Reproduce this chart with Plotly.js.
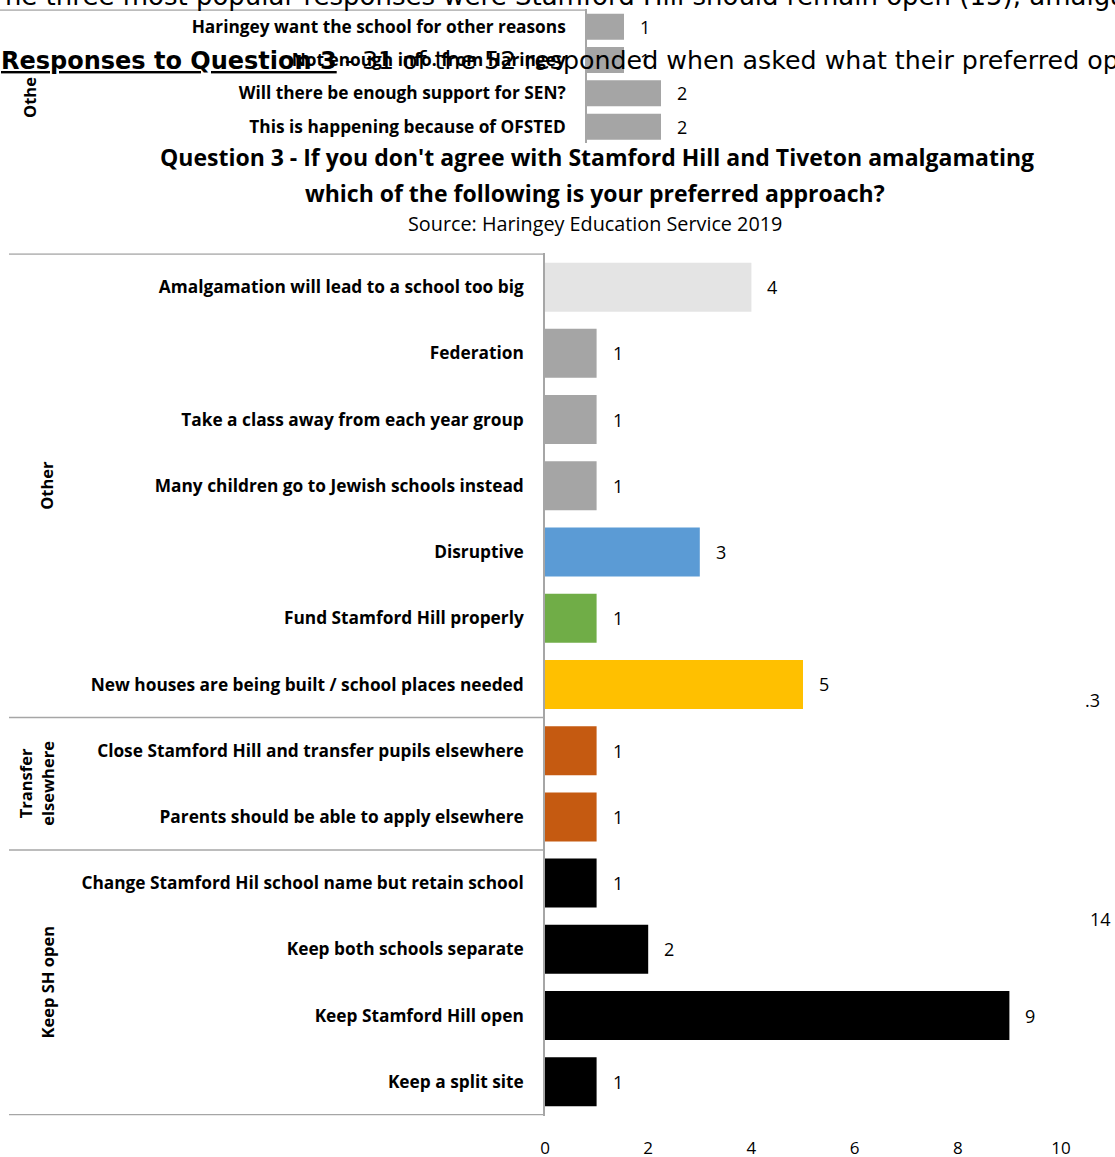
<!DOCTYPE html>
<html>
<head>
<meta charset="utf-8">
<script src="https://cdn.plot.ly/plotly-3.0.1.min.js"></script>
<style>
  html, body { margin: 0; padding: 0; background: #ffffff; }
  #chart { width: 1115px; height: 1157px; }
</style>
</head>
<body>
<div id="chart"></div>
<script>
// ---- Main chart data (Question 3) ----
const categories = [
  "Amalgamation will lead to a school too big",
  "Federation",
  "Take a class away from each year group",
  "Many children go to Jewish schools instead",
  "Disruptive",
  "Fund Stamford Hill properly",
  "New houses are being built / school places needed",
  "Close Stamford Hill and transfer pupils elsewhere",
  "Parents should be able to apply elsewhere",
  "Change Stamford Hil school name but retain school",
  "Keep both schools separate",
  "Keep Stamford Hill open",
  "Keep a split site"
];
const values = [4, 1, 1, 1, 3, 1, 5, 1, 1, 1, 2, 9, 1];
const groupNames = ["Other", "Transfer<br>elsewhere", "Keep SH open"];
const groupSizes = [7, 2, 4];
const xTickValues = [0, 2, 4, 6, 8, 10];

// ---- Partially visible previous chart (top of page) ----
const prevCategories = [
  "Haringey want the school for other reasons",
  "Not enough info. from Haringey",
  "Will there be enough support for SEN?",
  "This is happening because of OFSTED"
];
const prevValues = [1, 1, 2, 2];

// ---- Text from the surrounding document ----
const titleLine1 = "Question 3 - If you don't agree with Stamford Hill and Tiveton amalgamating";
const titleLine2 = "which of the following is your preferred approach?";
const sourceText = "Source: Haringey Education Service 2019";
const docLine1 = "The three most popular responses were Stamford Hill should remain open (15), amalgamation";
const docLine2Bold = "Responses to Question 3";
const docLine2Rest = " - 31 of the 52 responded when asked what their preferred option was";
const strayTexts = [".3", "14"];

// ---- Styles ----
const barColors = ["#e4e4e4", "#a5a5a5", "#a5a5a5", "#a5a5a5", "#5b9bd5", "#70ad47", "#ffc000",
                   "#c55a11", "#c55a11", "#000000", "#000000", "#000000", "#000000"];
const W = 1115, H = 1157;
const px = x => x / W;          // horizontal pixel -> paper
const py = y => 1 - y / H;      // vertical pixel -> paper
const FONT = "'Open Sans', Lato, sans-serif";
const DOCFONT = "'DejaVu Sans', 'Liberation Sans', Arial, sans-serif";
const lineCol = "#a6a6a6";

const traces = [
  {
    type: "bar", orientation: "h",
    x: values, y: categories,
    marker: { color: barColors },
    width: 0.74,
    hoverinfo: "x+y",
    xaxis: "x", yaxis: "y"
  },
  {
    type: "bar", orientation: "h",
    x: prevValues, y: prevCategories,
    marker: { color: "#a5a5a5" },
    width: 0.78,
    hoverinfo: "x+y",
    xaxis: "x2", yaxis: "y2"
  }
];

const annotations = [];
// value labels for main chart
values.forEach((v, i) => annotations.push({
  x: v, y: categories[i], xref: "x", yref: "y",
  text: String(v), showarrow: false, xanchor: "left", xshift: 14,
  font: { family: FONT, size: 18, color: "#000" }
}));
// value labels for previous chart
prevValues.forEach((v, i) => annotations.push({
  x: v, y: prevCategories[i], xref: "x2", yref: "y2",
  text: String(v), showarrow: false, xanchor: "left", xshift: 14,
  font: { family: FONT, size: 18, color: "#000" }
}));
// group labels
let start = 0;
groupNames.forEach((g, k) => {
  const mid = start + (groupSizes[k] - 1) / 2;
  annotations.push({
    x: px(g.indexOf("<br>") >= 0 ? 36 : 47), xref: "paper",
    y: mid, yref: "y",
    text: "<b>" + g + "</b>", textangle: -90, showarrow: false,
    xanchor: "center", yanchor: "middle",
    font: { family: FONT, size: 16.5, color: "#000" }
  });
  start += groupSizes[k];
});
// previous chart group label (clipped)
annotations.push({
  x: px(29), xref: "paper", y: py(98), yref: "paper",
  text: "<b>Othe</b>", textangle: -90, showarrow: false,
  xanchor: "center", yanchor: "middle",
  font: { family: FONT, size: 16.5, color: "#000" }
});
// title line 2 and source
annotations.push({
  x: px(595), xref: "paper", y: py(193), yref: "paper",
  text: "<b>" + titleLine2 + "</b>", showarrow: false,
  xanchor: "center", yanchor: "middle",
  font: { family: FONT, size: 23, color: "#000" }
});
annotations.push({
  x: px(595), xref: "paper", y: py(224), yref: "paper",
  text: sourceText, showarrow: false,
  xanchor: "center", yanchor: "middle",
  font: { family: FONT, size: 19.8, color: "#000" }
});
// document text
annotations.push({
  x: px(-14), xref: "paper", y: py(-4), yref: "paper",
  text: docLine1, showarrow: false,
  xanchor: "left", yanchor: "middle",
  font: { family: DOCFONT, size: 26, color: "#000" }
});
annotations.push({
  x: px(-1), xref: "paper", y: py(61), yref: "paper",
  text: "<span style=\"font-size:24px\"><b><u>" + docLine2Bold + "</u></b></span>" + docLine2Rest,
  showarrow: false,
  xanchor: "left", yanchor: "middle",
  font: { family: DOCFONT, size: 25.3, color: "#000" }
});
annotations.push({
  x: px(1102), xref: "paper", y: py(700), yref: "paper",
  text: strayTexts[0], showarrow: false, xanchor: "right", yanchor: "middle",
  font: { family: FONT, size: 18, color: "#000" }
});
annotations.push({
  x: px(1113), xref: "paper", y: py(919), yref: "paper",
  text: strayTexts[1], showarrow: false, xanchor: "right", yanchor: "middle",
  font: { family: FONT, size: 18, color: "#000" }
});

// separator lines in the category area
const shapes = [];
const bounds = [-0.5];
let acc = -0.5;
groupSizes.forEach(s => { acc += s; bounds.push(acc); });
bounds.forEach(b => shapes.push({
  type: "line", xref: "paper", yref: "y",
  x0: px(9), x1: px(545), y0: b, y1: b,
  line: { color: lineCol, width: 1.5 }
}));
// previous chart top separator
shapes.push({
  type: "line", xref: "paper", yref: "y2",
  x0: 0, x1: px(587), y0: -0.5, y1: -0.5,
  line: { color: lineCol, width: 1.5 }
});

const layout = {
  width: W, height: H,
  margin: { l: 0, r: 0, t: 0, b: 0 },
  paper_bgcolor: "#ffffff", plot_bgcolor: "rgba(0,0,0,0)",
  showlegend: false,
  title: {
    text: "<b>" + titleLine1 + "</b>",
    x: px(597), xanchor: "center", xref: "paper",
    y: py(158), yanchor: "middle", yref: "paper",
    font: { family: FONT, size: 23, color: "#000" }
  },
  xaxis: {
    domain: [px(545), px(1061)],
    range: [0, 10], tickvals: xTickValues,
    showgrid: false, zeroline: false, showline: false, ticks: "",
    ticklabelstandoff: 20,
    tickfont: { family: FONT, size: 17, color: "#000" },
    fixedrange: true
  },
  yaxis: {
    domain: [py(1115.6), py(253.3)],
    type: "category", autorange: "reversed",
    showgrid: false, zeroline: false,
    showline: true, linecolor: lineCol, linewidth: 1.5,
    ticks: "", ticklabelstandoff: 16,
    tickfont: { family: FONT, size: 17.3, color: "#000", weight: "bold" },
    fixedrange: true
  },
  xaxis2: {
    domain: [px(587), px(957)], anchor: "y2",
    range: [0, 10], visible: false, fixedrange: true
  },
  yaxis2: {
    domain: [py(143.3), py(9.3)], anchor: "x2",
    type: "category", autorange: "reversed",
    showgrid: false, zeroline: false,
    showline: true, linecolor: lineCol, linewidth: 1.5,
    ticks: "", ticklabelstandoff: 16,
    tickfont: { family: FONT, size: 17.3, color: "#000", weight: "bold" },
    fixedrange: true
  },
  annotations: annotations,
  shapes: shapes,
  bargap: 0.26
};

Plotly.newPlot("chart", traces, layout, { displayModeBar: false, responsive: false });
</script>
</body>
</html>
